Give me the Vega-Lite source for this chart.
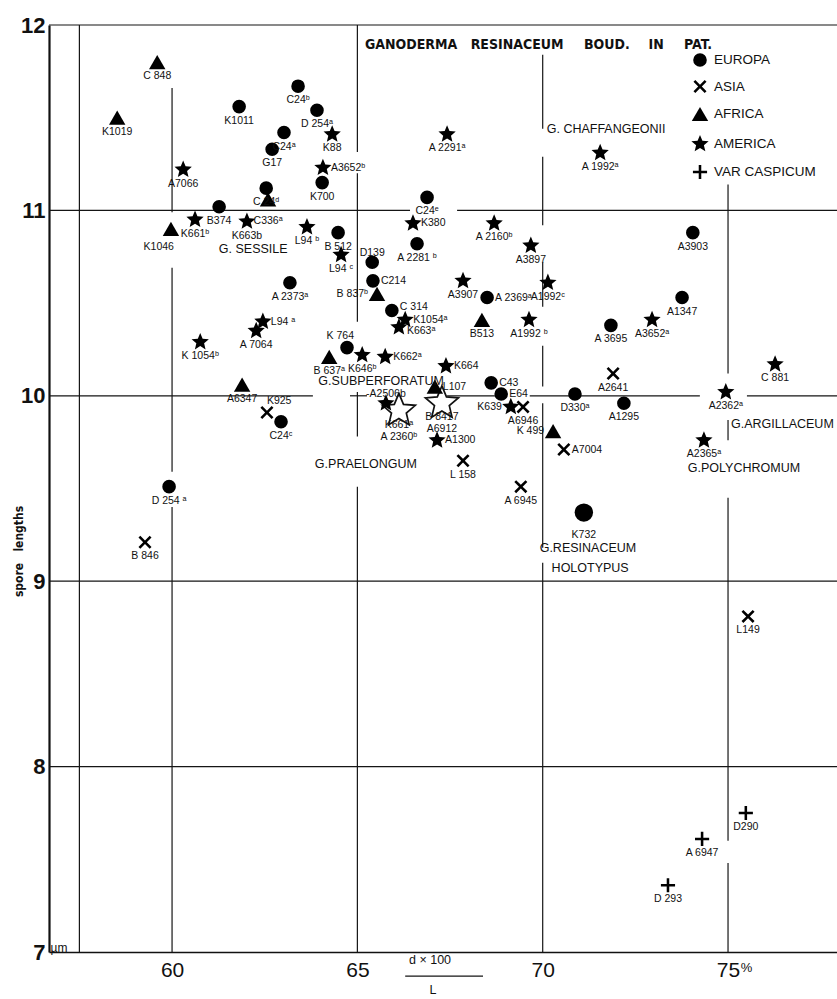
{
  "$schema": "https://vega.github.io/schema/vega-lite/v6.json",
  "width": 788,
  "height": 927,
  "autosize": {"type": "none"},
  "padding": {"left": 49, "top": 25, "right": 0, "bottom": 47},
  "background": "#ffffff",
  "config": {
    "view": {"stroke": null},
    "text": {"font": "Liberation Sans, Arial, sans-serif", "fontSize": 10.5, "color": "#111111"}
  },
  "datasets": {
    "grid": [
      {"x": 56.68, "x2": 77.94, "y": 12, "y2": 12},
      {"x": 56.68, "x2": 66.42, "y": 11, "y2": 11},
      {"x": 67.69, "x2": 77.94, "y": 11, "y2": 11},
      {"x": 56.68, "x2": 63.80, "y": 10, "y2": 10},
      {"x": 64.80, "x2": 65.26, "y": 10, "y2": 10},
      {"x": 67.42, "x2": 68.71, "y": 10, "y2": 10},
      {"x": 69.65, "x2": 70.74, "y": 10, "y2": 10},
      {"x": 70.97, "x2": 74.24, "y": 10, "y2": 10},
      {"x": 75.51, "x2": 77.94, "y": 10, "y2": 10},
      {"x": 56.68, "x2": 77.94, "y": 9, "y2": 9},
      {"x": 56.68, "x2": 77.94, "y": 8, "y2": 8},
      {"x": 57.5, "x2": 57.5, "y": 7, "y2": 12},
      {"x": 60, "x2": 60, "y": 11.66, "y2": 10.99},
      {"x": 60, "x2": 60, "y": 10.69, "y2": 9.59},
      {"x": 60, "x2": 60, "y": 9.40, "y2": 7},
      {"x": 65, "x2": 65, "y": 12, "y2": 11.315},
      {"x": 65, "x2": 65, "y": 11.20, "y2": 10.40},
      {"x": 65, "x2": 65, "y": 10.02, "y2": 9.78},
      {"x": 65, "x2": 65, "y": 9.51, "y2": 7},
      {"x": 70, "x2": 70, "y": 11.84, "y2": 11.44},
      {"x": 70, "x2": 70, "y": 11.29, "y2": 10.92},
      {"x": 70, "x2": 70, "y": 10.72, "y2": 10.48},
      {"x": 70, "x2": 70, "y": 10.27, "y2": 10.05},
      {"x": 70, "x2": 70, "y": 9.96, "y2": 9.18},
      {"x": 70, "x2": 70, "y": 9.10, "y2": 7},
      {"x": 75, "x2": 75, "y": 11.14, "y2": 10.12},
      {"x": 75, "x2": 75, "y": 9.87, "y2": 9.76},
      {"x": 75, "x2": 75, "y": 9.45, "y2": 7.60},
      {"x": 75, "x2": 75, "y": 7.48, "y2": 7},
      {"x": 66.29, "x2": 68.39, "y": 6.87, "y2": 6.87}
    ],
    "pts": [
      {"id": "K1011", "x": 61.81, "y": 11.56, "r": "EUROPA", "s": "b"},
      {"id": "C24ᵇ", "x": 63.40, "y": 11.67, "r": "EUROPA", "s": "b"},
      {"id": "D 254ᵃ", "x": 63.91, "y": 11.54, "r": "EUROPA", "s": "b"},
      {"id": "C24ᵃ", "x": 63.02, "y": 11.42, "r": "EUROPA", "s": "b"},
      {"id": "G17", "x": 62.70, "y": 11.33, "r": "EUROPA", "s": "b"},
      {"id": "C 24ᵈ", "x": 62.54, "y": 11.12, "r": "EUROPA", "s": "b"},
      {"id": "B374", "x": 61.27, "y": 11.02, "r": "EUROPA", "s": "b"},
      {"id": "K700", "x": 64.05, "y": 11.15, "r": "EUROPA", "s": "b"},
      {"id": "C24ᵉ", "x": 66.88, "y": 11.07, "r": "EUROPA", "s": "b"},
      {"id": "B 512", "x": 64.48, "y": 10.88, "r": "EUROPA", "s": "b"},
      {"id": "D139", "x": 65.40, "y": 10.72, "r": "EUROPA", "s": "t"},
      {"id": "A 2281 ᵇ", "x": 66.61, "y": 10.82, "r": "EUROPA", "s": "b"},
      {"id": "A 2373ᵃ", "x": 63.18, "y": 10.61, "r": "EUROPA", "s": "b"},
      {"id": "C214", "x": 65.42, "y": 10.62, "r": "EUROPA", "s": "r"},
      {"id": "C 314", "x": 65.93, "y": 10.46, "r": "EUROPA", "s": "ru"},
      {"id": "K 764", "x": 64.72, "y": 10.26, "r": "EUROPA", "s": "tl"},
      {"id": "A 2369ᵃ", "x": 68.50, "y": 10.53, "r": "EUROPA", "s": "r"},
      {"id": "C43", "x": 68.61, "y": 10.07, "r": "EUROPA", "s": "r"},
      {"id": "E64", "x": 68.88, "y": 10.01, "r": "EUROPA", "s": "r"},
      {"id": "D330ᵃ", "x": 70.87, "y": 10.01, "r": "EUROPA", "s": "b"},
      {"id": "A1295", "x": 72.19, "y": 9.96, "r": "EUROPA", "s": "b"},
      {"id": "A 3695", "x": 71.84, "y": 10.38, "r": "EUROPA", "s": "b"},
      {"id": "A1347", "x": 73.76, "y": 10.53, "r": "EUROPA", "s": "b"},
      {"id": "A3903", "x": 74.05, "y": 10.88, "r": "EUROPA", "s": "b"},
      {"id": "C24ᶜ", "x": 62.94, "y": 9.86, "r": "EUROPA", "s": "b"},
      {"id": "D 254 ᵃ", "x": 59.92, "y": 9.51, "r": "EUROPA", "s": "b"},
      {"id": "K732", "x": 71.11, "y": 9.37, "r": "EUROPA", "s": "bb", "k": "holotype"},
      {"id": "C 848", "x": 59.60, "y": 11.80, "r": "AFRICA", "s": "b"},
      {"id": "K1019", "x": 58.52, "y": 11.50, "r": "AFRICA", "s": "b"},
      {"id": "C336ᵃ", "x": 62.59, "y": 11.06, "r": "AFRICA", "s": "bb"},
      {"id": "K1046", "x": 59.97, "y": 10.90, "r": "AFRICA", "s": "bl"},
      {"id": "B 837ᵇ", "x": 65.53, "y": 10.55, "r": "AFRICA", "s": "l"},
      {"id": "B513", "x": 68.36, "y": 10.41, "r": "AFRICA", "s": "b"},
      {"id": "B 637ᵃ", "x": 64.24, "y": 10.21, "r": "AFRICA", "s": "b"},
      {"id": "L107", "x": 67.09, "y": 10.05, "r": "AFRICA", "s": "r"},
      {"id": "A6347", "x": 61.89, "y": 10.06, "r": "AFRICA", "s": "b"},
      {"id": "K 499", "x": 70.28, "y": 9.81, "r": "AFRICA", "s": "l"},
      {"id": "K925", "x": 62.56, "y": 9.91, "r": "ASIA", "s": "tr"},
      {"id": "A6946", "x": 69.47, "y": 9.94, "r": "ASIA", "s": "b"},
      {"id": "L 158", "x": 67.85, "y": 9.65, "r": "ASIA", "s": "b"},
      {"id": "A7004", "x": 70.57, "y": 9.71, "r": "ASIA", "s": "r"},
      {"id": "A2641", "x": 71.90, "y": 10.12, "r": "ASIA", "s": "b"},
      {"id": "A 6945", "x": 69.41, "y": 9.51, "r": "ASIA", "s": "b"},
      {"id": "B 846", "x": 59.27, "y": 9.21, "r": "ASIA", "s": "b"},
      {"id": "L149", "x": 75.54, "y": 8.81, "r": "ASIA", "s": "b"},
      {"id": "A7066", "x": 60.30, "y": 11.22, "r": "AMERICA", "s": "b"},
      {"id": "K661ᵇ", "x": 60.62, "y": 10.95, "r": "AMERICA", "s": "b"},
      {"id": "K663b", "x": 62.02, "y": 10.94, "r": "AMERICA", "s": "b"},
      {"id": "L94 ᵇ", "x": 63.64, "y": 10.91, "r": "AMERICA", "s": "b"},
      {"id": "K88", "x": 64.32, "y": 11.41, "r": "AMERICA", "s": "b"},
      {"id": "A3652ᵇ", "x": 64.07, "y": 11.23, "r": "AMERICA", "s": "r"},
      {"id": "A 2291ᵃ", "x": 67.42, "y": 11.41, "r": "AMERICA", "s": "b"},
      {"id": "K380", "x": 66.50, "y": 10.93, "r": "AMERICA", "s": "r"},
      {"id": "A 2160ᵇ", "x": 68.69, "y": 10.93, "r": "AMERICA", "s": "b"},
      {"id": "A3897", "x": 69.68, "y": 10.81, "r": "AMERICA", "s": "b"},
      {"id": "A 1992ᵃ", "x": 71.55, "y": 11.31, "r": "AMERICA", "s": "b"},
      {"id": "L94 ᶜ", "x": 64.56, "y": 10.76, "r": "AMERICA", "s": "b"},
      {"id": "A3907", "x": 67.85, "y": 10.62, "r": "AMERICA", "s": "b"},
      {"id": "A1992ᶜ", "x": 70.14, "y": 10.61, "r": "AMERICA", "s": "b"},
      {"id": "K1054ᵃ", "x": 66.29, "y": 10.41, "r": "AMERICA", "s": "r"},
      {"id": "K663ᵃ", "x": 66.12, "y": 10.37, "r": "AMERICA", "s": "rd"},
      {"id": "A1992 ᵇ", "x": 69.63, "y": 10.41, "r": "AMERICA", "s": "b"},
      {"id": "K646ᵇ", "x": 65.13, "y": 10.22, "r": "AMERICA", "s": "b"},
      {"id": "K662ᵃ", "x": 65.75, "y": 10.21, "r": "AMERICA", "s": "r"},
      {"id": "K664", "x": 67.39, "y": 10.16, "r": "AMERICA", "s": "r"},
      {"id": "-A2506b", "x": 65.77, "y": 9.96, "r": "AMERICA", "s": "t"},
      {"id": "K639", "x": 69.14, "y": 9.94, "r": "AMERICA", "s": "l"},
      {"id": "A1300", "x": 67.15, "y": 9.76, "r": "AMERICA", "s": "r"},
      {"id": "L94 ᵃ", "x": 62.45, "y": 10.40, "r": "AMERICA", "s": "r"},
      {"id": "A 7064", "x": 62.27, "y": 10.35, "r": "AMERICA", "s": "b"},
      {"id": "K 1054ᵇ", "x": 60.76, "y": 10.29, "r": "AMERICA", "s": "b"},
      {"id": "A3652ᵃ", "x": 72.95, "y": 10.41, "r": "AMERICA", "s": "b"},
      {"id": "C 881", "x": 76.27, "y": 10.17, "r": "AMERICA", "s": "b"},
      {"id": "A2362ᵃ", "x": 74.94, "y": 10.02, "r": "AMERICA", "s": "b"},
      {"id": "A2365ᵃ", "x": 74.35, "y": 9.76, "r": "AMERICA", "s": "b"},
      {"id": "K661ᵃ", "id2": "A 2360ᵇ", "x": 66.12, "y": 9.92, "r": "AMERICA", "s": "b", "k": "double"},
      {"id": "B 8417", "id2": "A6912", "x": 67.28, "y": 9.96, "r": "AMERICA", "s": "b", "k": "double"},
      {"id": "D290", "x": 75.48, "y": 7.75, "r": "VAR CASPICUM", "s": "b"},
      {"id": "A 6947", "x": 74.30, "y": 7.61, "r": "VAR CASPICUM", "s": "b"},
      {"id": "D 293", "x": 73.38, "y": 7.36, "r": "VAR CASPICUM", "s": "b"}
    ],
    "notes": [
      {"t": "GANODERMA", "x": 66.45, "y": 11.89, "g": "title"},
      {"t": "RESINACEUM", "x": 69.31, "y": 11.89, "g": "title"},
      {"t": "BOUD.", "x": 71.73, "y": 11.89, "g": "title"},
      {"t": "IN", "x": 73.06, "y": 11.89, "g": "title"},
      {"t": "PAT.", "x": 74.19, "y": 11.89, "g": "title"},
      {"t": "G. CHAFFANGEONII", "x": 71.71, "y": 11.44, "g": "taxon"},
      {"t": "G. SESSILE", "x": 62.19, "y": 10.79, "g": "taxon"},
      {"t": "G.SUBPERFORATUM", "x": 65.64, "y": 10.078, "g": "taxon"},
      {"t": "G.PRAELONGUM", "x": 65.23, "y": 9.63, "g": "taxon"},
      {"t": "G.POLYCHROMUM", "x": 75.43, "y": 9.61, "g": "taxon"},
      {"t": "G.RESINACEUM", "x": 71.22, "y": 9.18, "g": "taxon"},
      {"t": "HOLOTYPUS", "x": 71.28, "y": 9.07, "g": "taxon"},
      {"t": "G.ARGILLACEUM", "x": 75.08, "y": 9.85, "g": "taxonL"},
      {"t": "d × 100", "x": 66.96, "y": 6.955, "g": "axis"},
      {"t": "L", "x": 67.04, "y": 6.795, "g": "axis"},
      {"t": "%", "x": 75.34, "y": 6.914, "g": "pct"},
      {"t": "µm", "x": 56.72, "y": 6.985, "g": "unit"}
    ]
  },
  "encoding": {
    "x": {
      "field": "x",
      "type": "quantitative",
      "scale": {"domain": [56.68, 77.94], "nice": false, "zero": false},
      "axis": {
        "values": [60, 65, 70, 75],
        "title": null,
        "ticks": false,
        "grid": false,
        "domainColor": "#111111",
        "domainWidth": 1.6,
        "labelFont": "Liberation Sans, Arial, sans-serif",
        "labelFontSize": 21,
        "labelColor": "#111111",
        "labelPadding": 7,
        "labelFlush": false
      }
    },
    "y": {
      "field": "y",
      "type": "quantitative",
      "scale": {"domain": [7, 12], "nice": false, "zero": false},
      "axis": {
        "values": [7, 8, 9, 10, 11, 12],
        "title": "spore\u00a0\u00a0\u00a0lengths",
        "titleFont": "Liberation Sans Narrow, DejaVu Sans Condensed, Roboto Condensed, Liberation Sans, sans-serif",
        "titleFontSize": 12,
        "titleFontWeight": "bold",
        "titleColor": "#111111",
        "titleAngle": -90,
        "titleX": -31,
        "titleY": 526,
        "titleAlign": "center",
        "titleBaseline": "middle",
        "ticks": false,
        "grid": false,
        "domainColor": "#111111",
        "domainWidth": 2.2,
        "labelFont": "Liberation Sans, Arial, sans-serif",
        "labelFontSize": 22,
        "labelFontWeight": "bold",
        "labelColor": "#111111",
        "labelPadding": 4,
        "labelFlush": false
      }
    }
  },
  "layer": [
    {
      "data": {"name": "grid"},
      "mark": {"type": "rule", "color": "#151515", "strokeWidth": 1.2},
      "encoding": {"x2": {"field": "x2"}, "y2": {"field": "y2"}}
    },
    {
      "data": {"name": "pts"},
      "transform": [{"filter": "datum.k == 'double'"}],
      "mark": {
        "type": "point",
        "shape": "M0,-1L0.265,-0.364L0.951,-0.309L0.428,0.139L0.588,0.809L0,0.45L-0.588,0.809L-0.428,0.139L-0.951,-0.309L-0.265,-0.364Z",
        "filled": true,
        "fill": "#ffffff",
        "stroke": "#111111",
        "strokeWidth": 1.7,
        "opacity": 1,
        "size": 1200
      }
    },
    {
      "data": {"name": "pts"},
      "transform": [{"filter": "!datum.k"}],
      "mark": {"type": "point", "filled": true, "color": "#000000", "opacity": 1},
      "encoding": {
        "shape": {
          "field": "r",
          "type": "nominal",
          "scale": {
            "domain": ["EUROPA", "ASIA", "AFRICA", "AMERICA", "VAR CASPICUM"],
            "range": [
              "circle",
              "M-1,-0.72L-0.72,-1L0,-0.28L0.72,-1L1,-0.72L0.28,0L1,0.72L0.72,1L0,0.28L-0.72,1L-1,0.72L-0.28,0Z",
              "triangle-up",
              "M0,-1L0.265,-0.364L0.951,-0.309L0.428,0.139L0.588,0.809L0,0.45L-0.588,0.809L-0.428,0.139L-0.951,-0.309L-0.265,-0.364Z",
              "M-0.18,-1H0.18V-0.18H1V0.18H0.18V1H-0.18V0.18H-1V-0.18H-0.18Z"
            ]
          },
          "legend": {
            "title": null,
            "orient": "none",
            "legendX": 641,
            "legendY": 27,
            "padding": 0,
            "rowPadding": 6,
            "labelOffset": 4,
            "labelFont": "Liberation Sans, Arial, sans-serif",
            "labelFontSize": 13.5,
            "labelColor": "#111111",
            "symbolFillColor": "#000000",
            "symbolStrokeColor": "#000000",
            "symbolOpacity": 1
          }
        },
        "size": {
          "field": "r",
          "type": "nominal",
          "scale": {
            "type": "ordinal",
            "domain": ["EUROPA", "ASIA", "AFRICA", "AMERICA", "VAR CASPICUM"],
            "range": [185, 170, 270, 330, 200]
          },
          "legend": {
            "title": null,
            "orient": "none",
            "legendX": 641,
            "legendY": 27,
            "padding": 0,
            "rowPadding": 6,
            "labelOffset": 4,
            "labelFont": "Liberation Sans, Arial, sans-serif",
            "labelFontSize": 13.5,
            "labelColor": "#111111",
            "symbolFillColor": "#000000",
            "symbolStrokeColor": "#000000",
            "symbolOpacity": 1
          }
        }
      }
    },
    {
      "data": {"name": "pts"},
      "transform": [{"filter": "datum.k == 'holotype'"}],
      "mark": {"type": "point", "shape": "circle", "filled": true, "color": "#000000", "opacity": 1, "size": 340}
    },
    {
      "data": {"name": "pts"},
      "transform": [{"filter": "datum.s == 'b'"}],
      "mark": {"type": "text", "align": "center", "baseline": "middle", "dy": 14},
      "encoding": {"text": {"field": "id"}}
    },
    {
      "data": {"name": "pts"},
      "transform": [{"filter": "datum.s == 'bb'"}],
      "mark": {"type": "text", "align": "center", "baseline": "middle", "dy": 22},
      "encoding": {"text": {"field": "id"}}
    },
    {
      "data": {"name": "pts"},
      "transform": [{"filter": "datum.s == 'bl'"}],
      "mark": {"type": "text", "align": "right", "baseline": "middle", "dx": 3, "dy": 18},
      "encoding": {"text": {"field": "id"}}
    },
    {
      "data": {"name": "pts"},
      "transform": [{"filter": "datum.s == 'r'"}],
      "mark": {"type": "text", "align": "left", "baseline": "middle", "dx": 8},
      "encoding": {"text": {"field": "id"}}
    },
    {
      "data": {"name": "pts"},
      "transform": [{"filter": "datum.s == 'ru'"}],
      "mark": {"type": "text", "align": "left", "baseline": "middle", "dx": 8, "dy": -4},
      "encoding": {"text": {"field": "id"}}
    },
    {
      "data": {"name": "pts"},
      "transform": [{"filter": "datum.s == 'rd'"}],
      "mark": {"type": "text", "align": "left", "baseline": "middle", "dx": 8, "dy": 4},
      "encoding": {"text": {"field": "id"}}
    },
    {
      "data": {"name": "pts"},
      "transform": [{"filter": "datum.s == 'l'"}],
      "mark": {"type": "text", "align": "right", "baseline": "middle", "dx": -9},
      "encoding": {"text": {"field": "id"}}
    },
    {
      "data": {"name": "pts"},
      "transform": [{"filter": "datum.s == 't'"}],
      "mark": {"type": "text", "align": "center", "baseline": "middle", "dy": -9},
      "encoding": {"text": {"field": "id"}}
    },
    {
      "data": {"name": "pts"},
      "transform": [{"filter": "datum.s == 'tl'"}],
      "mark": {"type": "text", "align": "right", "baseline": "middle", "dx": 7, "dy": -12},
      "encoding": {"text": {"field": "id"}}
    },
    {
      "data": {"name": "pts"},
      "transform": [{"filter": "datum.s == 'tr'"}],
      "mark": {"type": "text", "align": "left", "baseline": "middle", "dx": 0, "dy": -11},
      "encoding": {"text": {"field": "id"}}
    },
    {
      "data": {"name": "pts"},
      "transform": [{"filter": "datum.id2"}],
      "mark": {"type": "text", "align": "center", "baseline": "middle", "dy": 26},
      "encoding": {"text": {"field": "id2"}}
    },
    {
      "data": {"name": "notes"},
      "transform": [{"filter": "datum.g == 'title'"}],
      "mark": {
        "type": "text",
        "align": "center",
        "baseline": "middle",
        "font": "Liberation Sans Narrow, DejaVu Sans Condensed, Roboto Condensed, Liberation Sans, sans-serif",
        "fontWeight": "bold",
        "fontSize": 14
      },
      "encoding": {"text": {"field": "t"}}
    },
    {
      "data": {"name": "notes"},
      "transform": [{"filter": "datum.g == 'taxon'"}],
      "mark": {"type": "text", "align": "center", "baseline": "middle", "fontSize": 12.5},
      "encoding": {"text": {"field": "t"}}
    },
    {
      "data": {"name": "notes"},
      "transform": [{"filter": "datum.g == 'taxonL'"}],
      "mark": {"type": "text", "align": "left", "baseline": "middle", "fontSize": 12.5},
      "encoding": {"text": {"field": "t"}}
    },
    {
      "data": {"name": "notes"},
      "transform": [{"filter": "datum.g == 'axis'"}],
      "mark": {"type": "text", "align": "center", "baseline": "middle", "fontSize": 12.5},
      "encoding": {"text": {"field": "t"}}
    },
    {
      "data": {"name": "notes"},
      "transform": [{"filter": "datum.g == 'pct'"}],
      "mark": {"type": "text", "align": "left", "baseline": "middle", "fontSize": 13},
      "encoding": {"text": {"field": "t"}}
    },
    {
      "data": {"name": "notes"},
      "transform": [{"filter": "datum.g == 'unit'"}],
      "mark": {"type": "text", "align": "left", "baseline": "bottom", "fontSize": 12},
      "encoding": {"text": {"field": "t"}}
    }
  ]
}
